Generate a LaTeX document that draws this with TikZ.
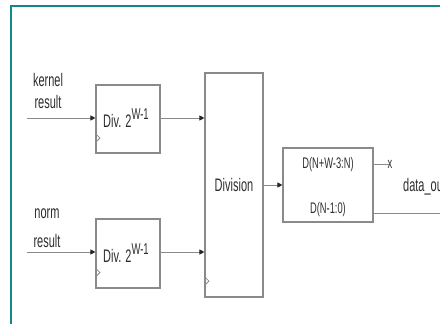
\documentclass[tikz,border=0pt]{standalone}
\usepackage{fontspec}
\usepackage{graphicx}
\setmainfont{Liberation Sans}
\usetikzlibrary{calc,arrows.meta}
\definecolor{frameteal}{HTML}{14878A}
\definecolor{linegray}{HTML}{8A8A8A}
\definecolor{txtgray}{HTML}{2E2E2E}
\newcommand\tx[1]{\scalebox{1}[1.65]{#1}}
\tikzset{
  blk/.style={draw=linegray, line width=1.1pt, fill=white, rectangle, inner sep=0pt, text=txtgray},
  wire/.style={draw=linegray, line width=0.9pt},
  arr/.style={wire, -{Triangle[length=5pt,width=5pt,color=black!85]}},
  lbl/.style={text=txtgray, inner sep=0pt, font=\fontsize{11}{13}\selectfont},
  small/.style={text=txtgray, inner sep=0pt, font=\fontsize{9.3}{11}\selectfont},
  clk/.style={draw=linegray, line width=0.8pt}
}
\begin{document}
\begin{tikzpicture}[x=1pt,y=-1pt]
\useasboundingbox (0,0) rectangle (440,324);
\fill[white] (0,0) rectangle (440,324);
% frame
\draw[frameteal, line width=2.3pt] (11.3,324) -- (11.3,6) -- (440,6);

% blocks
\node[blk, minimum width=64pt, minimum height=68pt] (div1) at (128,119) {};
\node[lbl] (div1t) at (126,118) {\tx{Div. 2\raisebox{0.45em}{\fontsize{9.5}{11}\selectfont W-1}}};
\node[blk, minimum width=64pt, minimum height=69pt] (div2) at (128,253.5) {};
\node[lbl] (div2t) at (126,253) {\tx{Div. 2\raisebox{0.45em}{\fontsize{9.5}{11}\selectfont W-1}}};
\node[blk, minimum width=58pt, minimum height=224pt] (dvs) at (234,185) {};
\node[lbl] (dvst) at (234,185) {\tx{Division}};
\node[blk, minimum width=90pt, minimum height=74pt] (outb) at (328,185) {};
\node[small] (hi) at (328,165) {\tx{D(N+W-3:N)}};
\node[small] (lo) at (328,210) {\tx{D(N-1:0)}};

% clock marks
\draw[clk] ($(div1.south west)+(0,-20)$) -- ++(4.5,4.5) -- ++(-4.5,4.5);
\draw[clk] ($(div2.south west)+(0,-20.5)$) -- ++(4.5,4.5) -- ++(-4.5,4.5);
\draw[clk] ($(dvs.south west)+(0,-21)$) -- ++(4.5,4.5) -- ++(-4.5,4.5);

% input labels
\node[lbl] (k1) at (48,80) {\tx{kernel}};
\node[lbl] (k2) at (48,102) {\tx{result}};
\node[lbl] (n1) at (47,214) {\tx{norm}};
\node[lbl] (n2) at (47,241) {\tx{result}};

% wires
\coordinate (in1) at (27,118);
\coordinate (in2) at (27,252);
\draw[arr] (in1) -- (in1 -| div1.west);
\draw[arr] (in2) -- (in2 -| div2.west);
\draw[arr] (in1 -| div1.east) -- (in1 -| dvs.west);
\draw[arr] (in2 -| div2.east) -- (in2 -| dvs.west);
\draw[arr] (dvs.east) -- (outb.west);

\coordinate (xo) at (389,164);
\node[small, anchor=west] (xl) at (387.5,164) {\tx{x}};
\draw[wire] (xo -| outb.east) -- (xo);
\coordinate (dout) at (440,213);
\draw[wire] (dout -| outb.east) -- (dout);
\node[lbl, anchor=west] (dl) at (403,187) {\tx{data\_out}};
\end{tikzpicture}
\end{document}
